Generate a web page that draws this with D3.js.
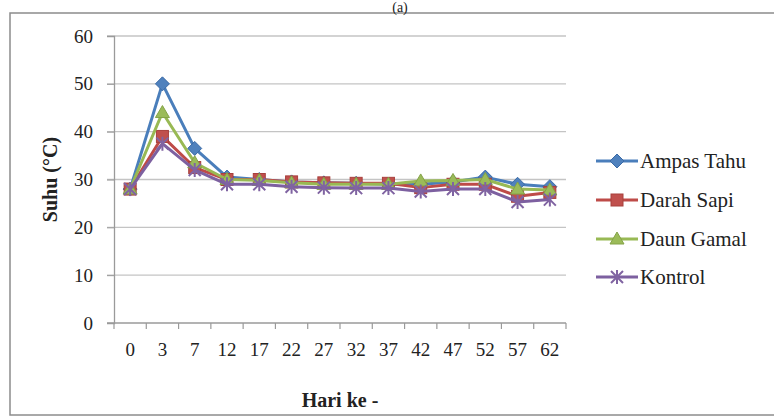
<!DOCTYPE html>
<html>
<head>
<meta charset="utf-8">
<script src="https://cdn.jsdelivr.net/npm/d3@7"></script>
<style>
  body { margin: 0; background: #fff; }
  svg text { font-family: "Liberation Serif", "Times New Roman", serif; fill: #222; }
</style>
</head>
<body>
<div id="chart"></div>
<script>
// Data
var days = ["0", "3", "7", "12", "17", "22", "27", "32", "37", "42", "47", "52", "57", "62"];
var ampasTahu = [28, 50, 36.5, 30.5, 30, 29.5, 29.3, 29.2, 29, 29, 29.5, 30.5, 29, 28.5];
var darahSapi = [28, 39, 32.5, 30, 30, 29.5, 29.3, 29.2, 29.2, 28.3, 29, 29, 26.5, 27.3];
var daunGamal = [28, 44, 33.5, 30, 29.8, 29.3, 29, 29, 29, 29.7, 29.8, 30, 28, 27.8];
var kontrol   = [28, 37.5, 32, 29, 29, 28.5, 28.3, 28.2, 28.2, 27.5, 28, 28, 25.3, 25.8];
var seriesNames = ["Ampas Tahu", "Darah Sapi", "Daun Gamal", "Kontrol"];
var yTicks = [0, 10, 20, 30, 40, 50, 60];

var cfg = {
  width: 774, height: 418,
  plot: { left: 114, right: 566, top: 36, bottom: 323 },
  font: "'Liberation Serif', 'Times New Roman', serif",
  lineColors: ["#4a7ebb", "#be4b48", "#98b954", "#7d60a0"],
  markColors: ["#4f81bd", "#c0504d", "#9bbb59", "#8064a2"],
  markers: ["diamond", "square", "triangle", "x"]
};

var series = [ampasTahu, darahSapi, daunGamal, kontrol].map(function(v, i) {
  return { name: seriesNames[i], values: v, line: cfg.lineColors[i], mark: cfg.markColors[i], shape: cfg.markers[i] };
});

var svg = d3.select("#chart").append("svg")
  .attr("width", cfg.width)
  .attr("height", cfg.height)
  .attr("font-family", cfg.font);

// outer frame + caption
svg.append("rect")
  .attr("x", 10).attr("y", 13)
  .attr("width", 800).attr("height", 402)
  .attr("fill", "none").attr("stroke", "#8c8c8c").attr("stroke-width", 1.5);

svg.append("text")
  .attr("x", 400).attr("y", 12)
  .attr("text-anchor", "middle")
  .style("font-size", "14px")
  .text("(a)");

var x = d3.scaleBand()
  .domain(days)
  .range([cfg.plot.left, cfg.plot.right])
  .padding(0);

var y = d3.scaleLinear()
  .domain([0, 60])
  .range([cfg.plot.bottom, cfg.plot.top]);

// gridlines
svg.append("g").selectAll("line")
  .data(yTicks.slice(1))
  .enter().append("line")
    .attr("x1", cfg.plot.left - 7).attr("x2", cfg.plot.right)
    .attr("y1", function(d) { return y(d); })
    .attr("y2", function(d) { return y(d); })
    .attr("stroke", "#c4c4c4").attr("stroke-width", 1.3);

// y axis
var yAxis = svg.append("g")
  .attr("transform", "translate(" + cfg.plot.left + ",0)")
  .call(d3.axisLeft(y).tickValues(yTicks).tickSize(7).tickPadding(14))
  .attr("font-family", cfg.font)
  .attr("font-size", 19);
yAxis.select(".domain").attr("stroke", "#9a9a9a").attr("stroke-width", 1.3);
yAxis.selectAll(".tick line").attr("stroke", "#9a9a9a");
yAxis.selectAll("text").attr("fill", "#222");

// x axis: ticks on category boundaries
var xAxis = svg.append("g")
  .attr("transform", "translate(0," + cfg.plot.bottom + ")")
  .call(d3.axisBottom(x).tickSize(0).tickPadding(20))
  .attr("font-family", cfg.font)
  .attr("font-size", 19);
xAxis.select(".domain").remove();
xAxis.selectAll("text").attr("fill", "#222");
xAxis.append("line")
  .attr("x1", cfg.plot.left - 7).attr("x2", cfg.plot.right)
  .attr("stroke", "#9a9a9a").attr("stroke-width", 1.3);
xAxis.selectAll(".bnd")
  .data(days.concat(["end"]))
  .enter().append("line")
    .attr("class", "bnd")
    .attr("x1", function(d, i) { return cfg.plot.left + i * x.bandwidth(); })
    .attr("x2", function(d, i) { return cfg.plot.left + i * x.bandwidth(); })
    .attr("y1", 0).attr("y2", 6)
    .attr("stroke", "#9a9a9a").attr("stroke-width", 1.2);

// axis titles
svg.append("text")
  .attr("x", (cfg.plot.left + cfg.plot.right) / 2)
  .attr("y", 407)
  .attr("text-anchor", "middle")
  .style("font-size", "20px").style("font-weight", "bold")
  .text("Hari ke -");

svg.append("text")
  .attr("transform", "translate(57," + ((cfg.plot.top + cfg.plot.bottom) / 2) + ") rotate(-90)")
  .attr("text-anchor", "middle")
  .style("font-size", "20px").style("font-weight", "bold")
  .text("Suhu (°C)");

// marker drawing
function drawMarker(g, shape, color, cx, cy) {
  if (shape === "diamond") {
    g.append("path")
      .attr("d", "M" + cx + "," + (cy - 7) + "L" + (cx + 7) + "," + cy + "L" + cx + "," + (cy + 7) + "L" + (cx - 7) + "," + cy + "Z")
      .attr("fill", color).attr("stroke", "#3a6aa6").attr("stroke-width", 1);
  } else if (shape === "square") {
    g.append("rect")
      .attr("x", cx - 6).attr("y", cy - 6).attr("width", 12).attr("height", 12)
      .attr("fill", color).attr("stroke", "#a8403d").attr("stroke-width", 1);
  } else if (shape === "triangle") {
    g.append("path")
      .attr("d", "M" + cx + "," + (cy - 7) + "L" + (cx + 7) + "," + (cy + 5) + "L" + (cx - 7) + "," + (cy + 5) + "Z")
      .attr("fill", color).attr("stroke", "#84a348").attr("stroke-width", 1);
  } else {
    g.append("path")
      .attr("d", "M" + (cx - 6) + "," + (cy - 6) + "L" + (cx + 6) + "," + (cy + 6) +
                 "M" + (cx - 6) + "," + (cy + 6) + "L" + (cx + 6) + "," + (cy - 6) +
                 "M" + cx + "," + (cy - 7) + "L" + cx + "," + (cy + 7))
      .attr("fill", "none").attr("stroke", color).attr("stroke-width", 2);
  }
}

var line = d3.line()
  .x(function(d, i) { return x(days[i]) + x.bandwidth() / 2; })
  .y(function(d) { return y(d); });

series.forEach(function(s) {
  var g = svg.append("g");
  g.append("path")
    .datum(s.values)
    .attr("d", line)
    .attr("fill", "none")
    .attr("stroke", s.line)
    .attr("stroke-width", 3)
    .attr("stroke-linejoin", "round");
  s.values.forEach(function(v, i) {
    drawMarker(g, s.shape, s.mark, x(days[i]) + x.bandwidth() / 2, y(v));
  });
});

// legend
var legendY = [161, 200, 239, 277];
series.forEach(function(s, i) {
  var g = svg.append("g");
  g.append("line")
    .attr("x1", 596).attr("x2", 638)
    .attr("y1", legendY[i]).attr("y2", legendY[i])
    .attr("stroke", s.line).attr("stroke-width", 3);
  drawMarker(g, s.shape, s.mark, 617, legendY[i]);
  g.append("text")
    .attr("x", 640).attr("y", legendY[i] + 7)
    .style("font-size", "21px")
    .text(s.name);
});
</script>
</body>
</html>
